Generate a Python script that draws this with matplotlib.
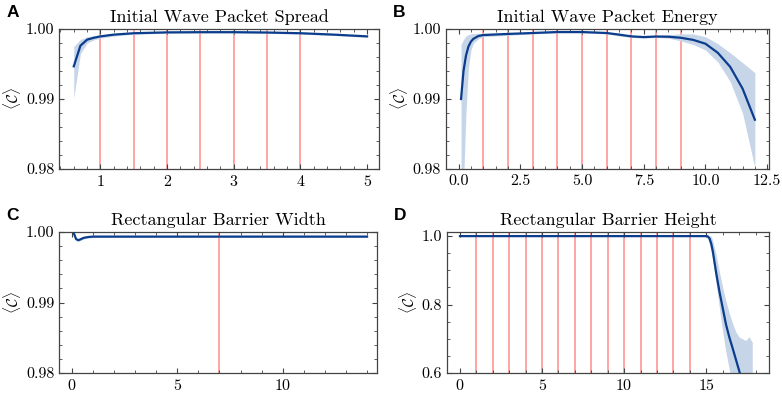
import numpy as np
import matplotlib
matplotlib.use("Agg")
import matplotlib.pyplot as plt
from matplotlib.ticker import AutoMinorLocator, MultipleLocator, FormatStrFormatter

plt.rcParams['font.family'] = 'serif'
plt.rcParams['font.serif'] = ['cmr10']
plt.rcParams['mathtext.fontset'] = 'cm'
plt.rcParams['axes.formatter.use_mathtext'] = True

# A: initial wave packet spread
spread_x = [0.6, 0.7, 0.8, 0.9, 1.0, 1.2, 1.5, 2.0, 2.5, 3.0, 3.5, 4.0, 4.5, 5.0]
spread_mean = [0.99467, 0.99762, 0.99848, 0.99875, 0.99895, 0.99920, 0.99940, 0.99952,
               0.99955, 0.99955, 0.99950, 0.99940, 0.99920, 0.99895]
spread_lo = [0.99014, 0.99650, 0.99800, 0.99845, 0.99870, 0.99900, 0.99925, 0.99940,
             0.99943, 0.99943, 0.99938, 0.99928, 0.99908, 0.99882]
spread_hi = [0.99750, 0.99850, 0.99890, 0.99905, 0.99915, 0.99935, 0.99952, 0.99962,
             0.99965, 0.99965, 0.99960, 0.99952, 0.99932, 0.99908]
spread_marks = [1.0, 1.5, 2.0, 2.5, 3.0, 3.5, 4.0]

# B: initial wave packet energy
energy_x = [0.1, 0.2, 0.3, 0.4, 0.5, 0.6, 0.8, 1.0, 2.0, 3.0, 4.0, 5.0, 6.0, 6.5, 7.0,
            7.5, 8.0, 8.5, 9.0, 9.5, 10.0, 10.5, 11.0, 11.5, 12.0]
energy_mean = [0.9900, 0.9940, 0.9962, 0.9975, 0.9982, 0.9986, 0.9990, 0.99914, 0.9993,
               0.99943, 0.99957, 0.99957, 0.99943, 0.99920, 0.99895, 0.99885, 0.99893,
               0.99890, 0.99875, 0.99845, 0.99790, 0.99660, 0.99460, 0.99150, 0.98704]
energy_lo = [0.9750, 0.9780, 0.9880, 0.9945, 0.9970, 0.9980, 0.9986, 0.9989, 0.9991,
             0.9993, 0.99945, 0.99945, 0.9993, 0.9990, 0.9988, 0.9987, 0.9988,
             0.9987, 0.9983, 0.9978, 0.9970, 0.9953, 0.9925, 0.9880, 0.9802]
energy_hi = [0.9978, 0.9985, 0.9990, 0.9992, 0.9993, 0.99935, 0.9994, 0.9994, 0.99945,
             0.99955, 0.9997, 0.9997, 0.99958, 0.9994, 0.9991, 0.9990, 0.9991,
             0.9992, 0.9993, 0.9993, 0.9989, 0.9979, 0.9966, 0.9952, 0.99376]
energy_marks = [1, 2, 3, 4, 5, 6, 7, 8, 9]

# C: rectangular barrier width
width_x = [0.1, 0.2, 0.3, 0.4, 0.5, 0.6, 0.8, 1.0, 2.0, 4.0, 6.0, 8.0, 10.0, 12.0, 14.0]
width_mean = [0.99977, 0.99900, 0.99884, 0.99895, 0.99910, 0.99920, 0.99930, 0.99935,
              0.99935, 0.99935, 0.99935, 0.99935, 0.99935, 0.99935, 0.99935]
width_lo = [0.99960, 0.99880, 0.99865, 0.99878, 0.99893, 0.99905, 0.99918, 0.99922,
            0.99922, 0.99922, 0.99922, 0.99922, 0.99922, 0.99922, 0.99922]
width_hi = [0.99990, 0.99920, 0.99905, 0.99915, 0.99928, 0.99936, 0.99944, 0.99948,
            0.99948, 0.99948, 0.99948, 0.99948, 0.99948, 0.99948, 0.99948]
width_marks = [7]

# D: rectangular barrier height
height_x = [0.0, 5.0, 10.0, 15.0, 15.1, 15.2, 15.3, 15.4, 15.6, 15.8, 16.0, 16.2, 16.4,
            16.6, 16.8, 17.0, 17.2, 17.4, 17.6, 17.8]
height_mean = [1.0, 1.0, 1.0, 1.0, 0.999, 0.993, 0.978, 0.955, 0.893, 0.838, 0.790, 0.742,
               0.705, 0.673, 0.640, 0.607, 0.572, 0.540, 0.505, 0.470]
height_lo = [1.0, 1.0, 1.0, 0.999, 0.99, 0.975, 0.955, 0.930, 0.860, 0.790, 0.720,
             0.660, 0.610, 0.560, 0.520, 0.480, 0.440, 0.400, 0.360, 0.330]
height_hi = [1.0, 1.0, 1.0, 1.0, 1.0, 1.0, 1.0, 0.985, 0.945, 0.895, 0.850, 0.810, 0.775,
             0.745, 0.720, 0.705, 0.700, 0.695, 0.706, 0.690]
height_marks = [1, 2, 3, 4, 5, 6, 7, 8, 9, 10, 11, 12, 13, 14]

line_col = '#0b3d8c'
band_col = '#c6d5e7'
mark_col = '#ff9e9e'

fig = plt.figure(figsize=(7.82, 3.96), dpi=100)

panels = [
    ('A', 'Initial Wave Packet Spread', spread_x, spread_mean, spread_lo, spread_hi,
     spread_marks, [0.076, 0.5732, 0.4092, 0.3535], (0.385, 5.185), (0.98, 1.0)),
    ('B', 'Initial Wave Packet Energy', energy_x, energy_mean, energy_lo, energy_hi,
     energy_marks, [0.5703, 0.5732, 0.4130, 0.3535], (-0.51, 12.57), (0.98, 1.0)),
    ('C', 'Rectangular Barrier Width', width_x, width_mean, width_lo, width_hi,
     width_marks, [0.076, 0.0581, 0.4066, 0.356], (-0.59, 14.49), (0.98, 1.0)),
    ('D', 'Rectangular Barrier Height', height_x, height_mean, height_lo, height_hi,
     height_marks, [0.5716, 0.0581, 0.4118, 0.356], (-0.79, 18.82), (0.6, 1.012)),
]

for letter, title, x, mean, lo, hi, marks, rect, xlim, ylim in panels:
    ax = fig.add_axes(rect)
    for m in marks:
        ax.axvline(m, color=mark_col, lw=1.3, zorder=1)
    ax.fill_between(x, lo, hi, color=band_col, lw=0, zorder=2)
    ax.plot(x, mean, color=line_col, lw=1.6, zorder=3)
    ax.set_xlim(*xlim)
    ax.set_ylim(*ylim)
    if letter == 'B':
        ax.xaxis.set_major_locator(MultipleLocator(2.5))
        ax.xaxis.set_major_formatter(FormatStrFormatter('%.1f'))
    if letter == 'D':
        ax.yaxis.set_major_locator(MultipleLocator(0.2))
        ax.yaxis.set_major_formatter(FormatStrFormatter('%.1f'))
    else:
        ax.yaxis.set_major_locator(MultipleLocator(0.01))
        ax.yaxis.set_major_formatter(FormatStrFormatter('%.2f'))
    ax.xaxis.set_minor_locator(AutoMinorLocator())
    ax.yaxis.set_minor_locator(AutoMinorLocator())
    ax.tick_params(which='both', direction='in', top=True, right=True, labelsize=11.5,
                   color='#444444')
    ax.tick_params(which='major', length=3.5, width=0.8)
    ax.tick_params(which='minor', length=2, width=0.6)
    for s in ax.spines.values():
        s.set_color('#444444')
        s.set_linewidth(0.9)
    ax.set_ylabel(r'$\langle \mathcal{C} \rangle$', fontsize=11, labelpad=2)
    ax.set_title(title, fontsize=13, pad=5)
    fig.text(rect[0] - 0.06, rect[1] + rect[3] + 0.042, letter, fontsize=12.5,
             fontweight='bold', family='Liberation Sans', va='center', ha='center')

fig.savefig('out.png', dpi=100)
